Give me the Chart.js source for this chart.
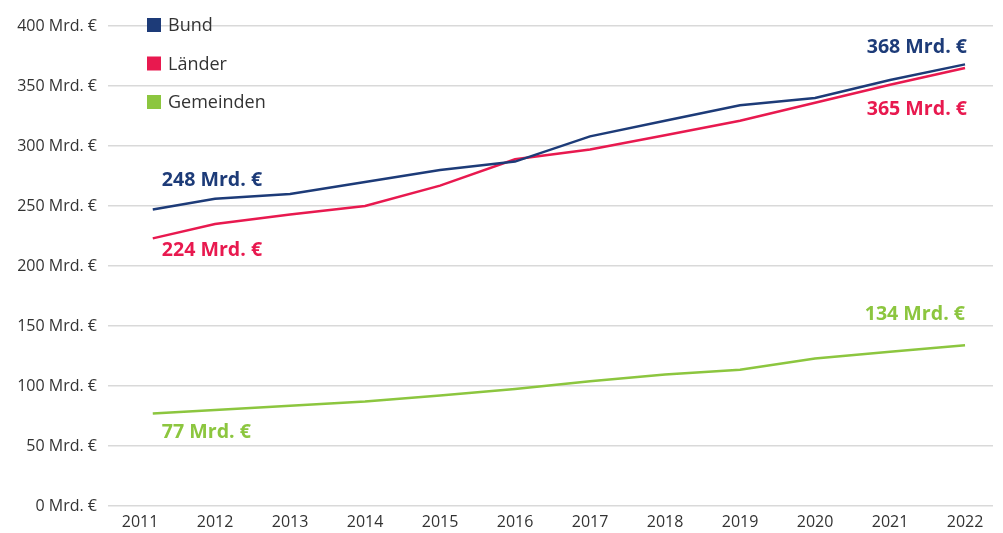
<!DOCTYPE html>
<html>
<head>
<meta charset="utf-8">
<script src="https://cdn.jsdelivr.net/npm/chart.js@4"></script>
<style>
  html, body { margin: 0; padding: 0; background: #ffffff; }
  #wrap { width: 1003px; height: 533px; position: relative; }
</style>
</head>
<body>
<div id="wrap"><canvas id="c" width="1003" height="533"></canvas></div>
<script>
// ---- Data ----
const tickYears = [2011, 2012, 2013, 2014, 2015, 2016, 2017, 2018, 2019, 2020, 2021, 2022];
const pointYears = [2011.17, 2012, 2013, 2014, 2015, 2016, 2017, 2018, 2019, 2020, 2021, 2022];
const seriesNames = ["Bund", "Länder", "Gemeinden"];
const bund      = [247, 256, 260, 270, 280, 287, 308, 321, 334, 340, 355, 368];
const laender   = [223, 235, 243, 250, 267, 289, 297, 309, 321, 336, 351, 365];
const gemeinden = [77, 80, 83.5, 87, 92, 97.5, 104, 109.5, 113.5, 123, 128.5, 134];
const yTicks = [0, 50, 100, 150, 200, 250, 300, 350, 400];
const startLabels = ["248 Mrd. €", "224 Mrd. €", "77 Mrd. €"];
const endLabels   = ["368 Mrd. €", "365 Mrd. €", "134 Mrd. €"];

const colors = ["#1d3b78", "#e8194f", "#8cc63f"];
const seriesValues = [bund, laender, gemeinden];

const toXY = (vals) => vals.map((v, i) => ({ x: pointYears[i], y: v }));

// label offsets (style): [dx, dy] relative to first / last point
const startOffsets = [[9, -29], [9, 12], [9, 19]];
const endOffsets   = [[2, -17], [2, 41], [0, -31]];

const annotationPlugin = {
  id: 'annot',
  afterDatasetsDraw(chart) {
    const ctx = chart.ctx;
    ctx.save();
    ctx.font = 'bold 19.6px "Open Sans", sans-serif';
    ctx.textBaseline = 'middle';
    chart.data.datasets.forEach((ds, i) => {
      const meta = chart.getDatasetMeta(i);
      const first = meta.data[0];
      const last = meta.data[meta.data.length - 1];
      ctx.fillStyle = ds.borderColor;
      ctx.textAlign = 'left';
      ctx.fillText(startLabels[i], first.x + startOffsets[i][0], first.y + startOffsets[i][1]);
      ctx.textAlign = 'right';
      ctx.fillText(endLabels[i], last.x + endOffsets[i][0], last.y + endOffsets[i][1]);
    });
    ctx.restore();
  }
};

const legendPlugin = {
  id: 'customLegend',
  afterDraw(chart) {
    const ctx = chart.ctx;
    ctx.save();
    ctx.font = '18px "Open Sans", sans-serif';
    ctx.textBaseline = 'middle';
    ctx.textAlign = 'left';
    chart.data.datasets.forEach((ds, i) => {
      const cy = 25 + i * 38.5;
      ctx.fillStyle = ds.borderColor;
      ctx.fillRect(147, cy - 7, 14, 14);
      ctx.fillStyle = '#333333';
      ctx.fillText(ds.label, 168, cy + 1);
    });
    ctx.restore();
  }
};

new Chart(document.getElementById('c'), {
  type: 'line',
  data: {
    datasets: seriesNames.map((name, i) => ({
      label: name,
      data: toXY(seriesValues[i]),
      borderColor: colors[i],
      backgroundColor: colors[i],
      borderWidth: 2.5,
      pointRadius: 0,
      tension: 0,
      fill: false
    }))
  },
  options: {
    responsive: false,
    animation: false,
    layout: { padding: { top: 26, right: 10, left: 0, bottom: 0 } },
    plugins: { legend: { display: false }, tooltip: { enabled: false } },
    scales: {
      x: {
        type: 'linear',
        min: 2010.573,
        max: 2022.373,
        afterBuildTicks(scale) { scale.ticks = tickYears.map(v => ({ value: v })); },
        afterFit(scale) { scale.height = 27; },
        grid: { display: false, drawTicks: false },
        border: { display: false },
        ticks: {
          padding: 7,
          color: '#333333',
          font: { family: '"Open Sans", sans-serif', size: 16 },
          callback: (v) => String(v),
          maxRotation: 0,
          autoSkip: false
        }
      },
      y: {
        min: 0,
        max: 400,
        afterBuildTicks(scale) { scale.ticks = yTicks.map(v => ({ value: v })); },
        afterFit(scale) { scale.width = 108; },
        grid: { color: '#d9d9d9', lineWidth: 1.5, drawTicks: false },
        border: { display: false },
        ticks: {
          padding: 11,
          color: '#333333',
          font: { family: '"Open Sans", sans-serif', size: 16 },
          callback: (v) => v + ' Mrd. €'
        }
      }
    }
  },
  plugins: [annotationPlugin, legendPlugin]
});
</script>
</body>
</html>
